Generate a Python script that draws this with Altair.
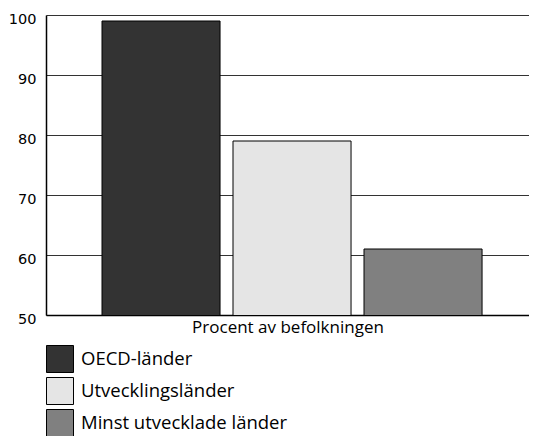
import altair as alt
import pandas as pd

categories = ["OECD-länder", "Utvecklingsländer", "Minst utvecklade länder"]
values = [99, 79, 61]
colors = ["#333333", "#e5e5e5", "#808080"]
y_ticks = [50, 60, 70, 80, 90, 100]

df = pd.DataFrame({"group": categories, "value": values})

chart = alt.Chart(df).mark_bar(stroke="black", strokeWidth=1, clip=True).encode(
    x=alt.X("group:N", sort=categories,
            scale=alt.Scale(paddingInner=0.099, paddingOuter=0.393, align=0.544),
            axis=alt.Axis(title="Procent av befolkningen", labels=False, ticks=False,
                          domainColor="black", domainWidth=1.5, titleFont="Open Sans",
                          titleFontSize=17, titleFontWeight="normal", titleColor="black",
                          titlePadding=4)),
    y=alt.Y("value:Q", scale=alt.Scale(domain=[50, 100], nice=False, zero=False),
            axis=alt.Axis(title=None, values=y_ticks, ticks=False, grid=True,
                          gridColor="#333333", gridWidth=1, domainColor="black",
                          domainWidth=1.5, labelFont="DejaVu Sans", labelFontSize=14.5,
                          labelColor="black", labelPadding=10, labelOffset=4)),
    color=alt.Color("group:N", sort=categories,
                    scale=alt.Scale(domain=categories, range=colors),
                    legend=alt.Legend(title=None, orient="none", legendX=0, legendY=330,
                                      direction="vertical", symbolType="square",
                                      symbolSize=729, symbolStrokeColor="black",
                                      symbolStrokeWidth=1, symbolOpacity=1,
                                      labelFont="Open Sans", labelFontSize=18.5,
                                      labelLimit=400,
                                      labelColor="black", rowPadding=0, labelOffset=7)),
).properties(
    width=483, height=300,
    autosize=alt.AutoSizeParams(type="none"),
    padding={"left": 38, "top": 7, "right": 0, "bottom": 121},
).configure_view(stroke=None)

chart.save("out.html", embed_options={"renderer": "svg", "actions": False})
